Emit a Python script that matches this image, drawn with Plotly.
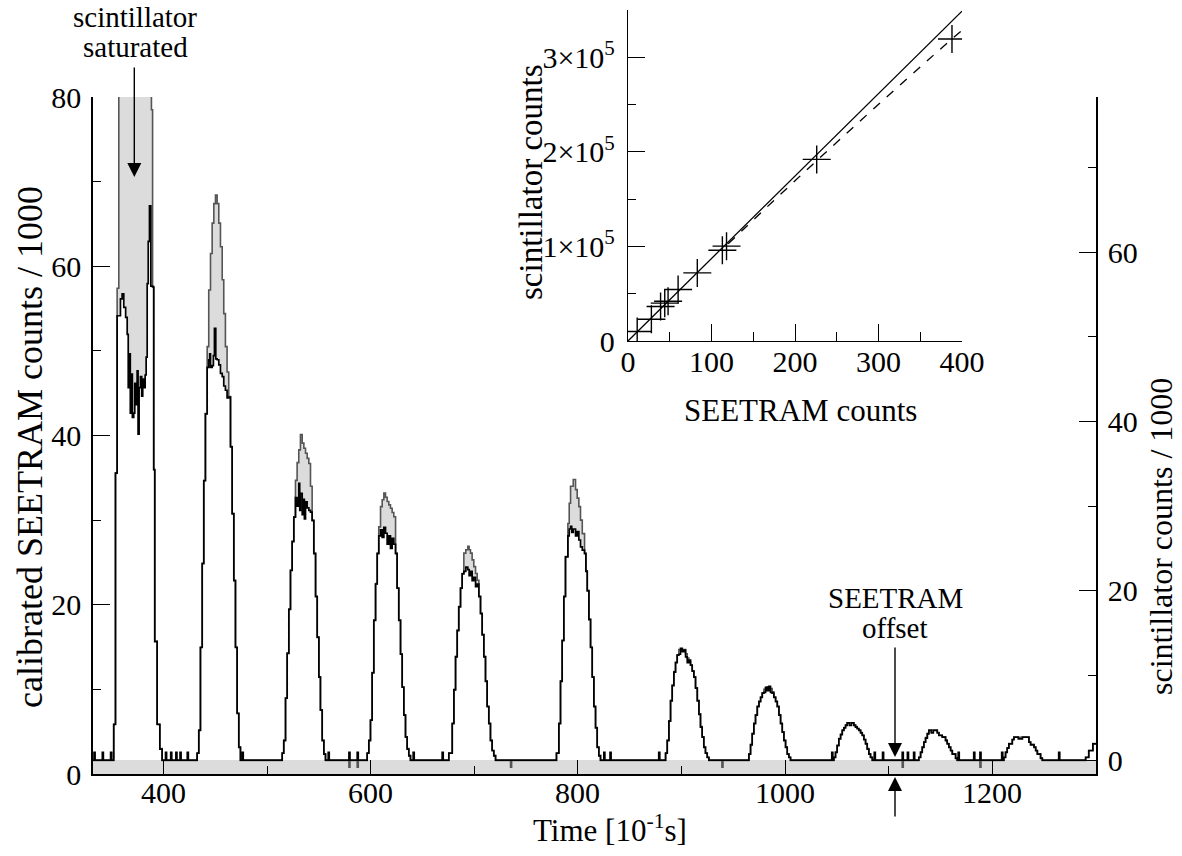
import plotly.graph_objects as go

# ---------------- main panel data ----------------
# calibrated SEETRAM counts / 1000 (left axis), step breakpoints (time in 0.1 s)
seetram_t = [330,
             352, 353.7, 355.3, 356.9, 388.4, 389.5, 390.6, 391.6, 393.9, 396.5, 398.7,
             432.5, 434.1, 435.7, 437.4, 438.9, 440.5, 442.2, 443.7, 445.4, 447, 448.6, 450.2, 451.8,
             453.4, 455, 456.7, 458.2, 459.8, 461.4, 463, 464.7, 466.3, 467.9, 469.5, 471.1, 472.7, 474.3,
             514.6, 516.1, 517.8, 519.4, 521, 522.6, 524.2, 525.8, 527.4, 529, 530.6, 532.2, 533.9,
             535.5, 537.1, 538.7, 540.3, 541.9, 543.5, 545.1, 546.8, 548.4, 550, 551.5, 553.2, 554.8, 556.4,
             596.6, 598.2, 599.8, 601.4, 603, 604.7, 606.3, 607.8, 609.5, 611.1, 612.7, 614.3, 615.9,
             617.5, 619.1, 620.7, 622.3, 624, 625.5, 627.1, 628.8, 630.4, 632, 633.6, 635.2, 636.8, 638.4,
             675.4, 678.7, 680.3, 681.9, 683.5, 685, 686.7, 688.3, 689.9, 691.8, 693.7, 695, 696.3,
             697.9, 699.5, 701.2, 702.8, 704.4, 706, 707.6, 709.2, 710.8, 712.4, 714, 715.6, 717.2, 718.8, 720.5,
             779.3, 781.6, 783.2, 784.8, 786.4, 788, 790.3, 791.6, 792.9, 795.5, 797.7, 799.3, 800.9,
             802.5, 804.2, 806.4, 807.7, 809, 810.6, 812.2, 813.8, 815.4, 817, 818.6, 820.2, 821.8,
             884.6, 886.2, 887.8, 889.4, 891, 892.6, 894.2, 895.8, 897.4, 903.9, 905.5, 907.1, 908.7,
             910.3, 911.9, 913.5, 915.2, 916.8, 918.3, 919.9, 921.5, 923.1, 924.8, 926.4,
             965, 966.6, 968.2, 969.8, 971.4, 973.1, 974.7, 976.3, 977.9, 979.5, 981.1, 982.7, 984.3,
             985.9, 987.5, 989.1, 990.8, 992.4, 994, 995.6, 997.2, 998.8, 1000.4, 1002, 1003.6, 1005.2,
             1047, 1048.6, 1050.2, 1051.8, 1053.5, 1055.1, 1056.7, 1058.3, 1059.9, 1066.3, 1067.9,
             1069.5, 1071.1, 1072.8, 1074.4, 1076, 1077.6, 1079.2, 1080.8, 1082.4, 1084.1,
             1129, 1130.7, 1132.3, 1133.9, 1135.5, 1137.2, 1138.7, 1146.8, 1148.4, 1151.6, 1154.8,
             1156.4, 1158, 1159.7, 1161.3, 1164.5, 1166.1,
             1211.1, 1212.7, 1214.3, 1215.9, 1219.2, 1220.8, 1235.3, 1236.9, 1240.2, 1241.8, 1243.4,
             1246.5, 1248.2,
             1290, 1293, 1297, 1302]
seetram_v = [1.6,
             5.9, 35.6, 57.4, 100, 78.5, 57.6, 36, 15.7, 5.9, 3.0, 1.6,
             2.5, 5.2, 15, 24.9, 34.7, 42.6, 50.5, 57.2, 61.5, 65.1, 67.4, 68.4, 67.4,
             65.1, 62.3, 58.4, 54.4, 50.5, 47.5, 44.6, 38.7, 30.8, 22.9, 15, 7.2, 3.2, 1.6,
             2.5, 4.0, 9, 14.3, 19.5, 24.1, 27.5, 30.4, 34.7, 36.8, 38.3, 40.1, 39.1,
             38.5, 37.9, 37.3, 36.7, 34, 30, 26.1, 21, 16.2, 11.5, 7.6, 4.0, 2.4, 1.6,
             2.5, 4, 6.4, 12, 18.2, 22.5, 26.1, 29.2, 31.6, 32.4, 33.2, 32.7, 32.2,
             31.8, 31.4, 30.9, 30.4, 26.1, 22, 18.2, 14.2, 10.3, 7, 4.4, 3, 2.2, 1.6,
             2.5, 6.0, 10, 13.9, 17, 19.8, 22, 23.7, 26.1, 26.5, 26.9, 26.5, 26.1,
             25.3, 24.5, 23.7, 22.9, 21, 19, 16.5, 13.9, 11, 8, 6, 4, 2.8, 2.2, 1.6,
             2.5, 6.0, 11, 15.8, 21, 25.7, 29.6, 32, 34, 34.8, 33.6, 32.6, 31.6,
             30, 28.4, 26.1, 24, 21.7, 18.3, 15, 11.5, 8, 5.5, 3.2, 2.2, 1.6,
             2.5, 4.0, 6.3, 8.7, 10.5, 12.1, 13.2, 14.1, 14.7, 14.2, 13.7, 13.3, 12.9,
             12.2, 11.5, 10.2, 8.7, 7.1, 5.6, 4.4, 3.2, 2.5, 2.0, 1.6,
             2.4, 3.5, 4.8, 6.0, 7.0, 8.0, 8.6, 9.1, 9.6, 10.0, 10.2, 10.3, 10.0,
             10.1, 9.7, 9.1, 8.6, 8.0, 7.0, 6.0, 5.0, 4.0, 3.2, 2.4, 2.0, 1.6,
             2.0, 2.6, 3.4, 4.2, 4.7, 5.2, 5.5, 5.8, 6.05, 5.8, 5.6,
             5.4, 5.2, 4.9, 4.6, 4.1, 3.6, 3.0, 2.4, 2.0, 1.6,
             2.0, 2.6, 3.2, 3.8, 4.3, 4.8, 5.2, 4.9, 4.6, 4.4, 4.0,
             3.6, 3.2, 2.8, 2.4, 1.9, 1.6,
             2.0, 2.6, 3.1, 3.6, 4.1, 4.35, 3.8, 3.5, 3.2, 2.8, 2.4,
             1.9, 1.6,
             2.0, 2.8, 3.6, 3.6]
seetram_base = 1.6
seetram_dip_t = [579, 587, 735, 939, 1113, 1188]
seetram_dip_v = 0.8

# scintillator counts / 1000 (right axis), step breakpoints
scint_t = [330,
           352, 353.7, 355.3, 358.5, 360.1, 361.7, 363.5, 365, 366, 367, 368, 369, 370, 371.3, 372.3,
           373.3, 374.6, 375.5, 376.5, 377.8, 379, 380, 381, 382.3, 383.3, 384.3, 385.3, 386.5, 387.8,
           389.5, 390.6, 391.6, 393.9, 396.5, 398.7,
           432.5, 434.1, 435.7, 437.4, 438.9, 440.5, 442.2, 443.7, 444.6, 445.4, 447, 448.2, 449.2,
           450.5, 451.8, 453.4, 455, 456.7, 458.2, 459.8, 461.4, 463, 464.7, 466.3, 467.9, 469.5,
           471.1, 472.7, 474.3,
           514.6, 516.1, 517.8, 519.4, 521, 522.6, 524.2, 525.8, 527.4, 529, 530.6, 531.5, 532.2,
           533.9, 535, 536, 537.1, 538.7, 540.3, 541.9, 543.5, 545.1, 546.8, 548.4, 550, 551.5,
           553.2, 554.8, 556.4,
           596.6, 598.2, 599.8, 601.4, 603, 604.7, 606.3, 607.8, 609.5, 611.1, 612.7, 614.3, 615.9,
           617.5, 619.1, 620.7, 622.3, 624, 625.5, 627.1, 628.8, 630.4, 632, 633.6, 635.2, 636.8, 638.4,
           675.4, 678.7, 680.3, 681.9, 683.5, 685, 686.7, 688.3, 689.9, 691.8, 693.7, 695, 696.3,
           697.9, 699.5, 701.2, 702.8, 704.4, 706, 707.6, 709.2, 710.8, 712.4, 714, 715.6, 717.2,
           718.8, 720.5,
           779.3, 781.6, 783.2, 784.8, 786.4, 788, 790.3, 791.6, 792.9, 794, 795.5, 797.7, 799.3,
           800.9, 802.5, 804.2, 806.4, 807.7, 809, 810.6, 812.2, 813.8, 815.4, 817, 818.6, 820.2, 821.8,
           884.6, 886.2, 887.8, 889.4, 891, 892.6, 894.2, 895.8, 897.4, 899, 900.7, 902.3, 903.9,
           905.5, 907.1, 908.7, 910.3, 911.9, 913.5, 915.2, 916.8, 918.3, 919.9, 921.5, 923.1, 924.8, 926.4,
           965, 966.6, 968.2, 969.8, 971.4, 973.1, 974.7, 976.3, 977.9, 979.5, 981.1, 982.7, 984.3,
           985.9, 987.5, 989.1, 990.8, 992.4, 994, 995.6, 997.2, 998.8, 1000.4, 1002, 1003.6, 1005.2,
           1047, 1048.6, 1050.2, 1051.8, 1053.5, 1055.1, 1056.7, 1058.3, 1059.9, 1062, 1064, 1066.3,
           1067.9, 1069.5, 1071.1, 1072.8, 1074.4, 1076, 1077.6, 1079.2, 1080.8, 1082.4, 1084.1,
           1129, 1130.7, 1132.3, 1133.9, 1135.5, 1137.2, 1138.7, 1141, 1143, 1146.8, 1148.4, 1151.6,
           1154.8, 1156.4, 1158, 1159.7, 1161.3, 1164.5, 1166.1,
           1211.1, 1212.7, 1214.3, 1215.9, 1219.2, 1220.8, 1225, 1229, 1235.3, 1236.9, 1240.2,
           1241.8, 1243.4, 1246.5, 1248.2,
           1290, 1293, 1297, 1302]
scint_v = [0,
           4.2, 33.9, 52.5, 54.5, 55.1, 53.5, 52.3, 50.3, 44, 48, 41, 45.6, 40.5, 41, 44.5,
           42, 46, 38.5, 44, 45.3, 43, 45, 44, 45.5, 47.6, 56.3, 61.3, 65.5, 56,
           55.9, 34.3, 14, 4.2, 1.3, 0,
           0.8, 3.5, 13.3, 23.2, 33, 40.9, 46.4, 47.3, 48, 46.4, 46.6, 47.8, 51,
           47.4, 47.3, 46.7, 45.7, 45.3, 44.2, 43.7, 42.8, 42.9, 37, 29.1, 21.2, 13.3,
           5.5, 1.5, 0,
           0.8, 2.3, 7.3, 12.6, 17.8, 22.4, 25.8, 28.7, 31, 30, 32.7, 29.5, 31.5,
           29, 30.8, 28.5, 30.5, 29.8, 29.5, 29.3, 28.3, 24.4, 19.3, 14.5, 9.8, 5.9,
           2.3, 0.7, 0,
           0.8, 2.3, 4.7, 10.3, 16.5, 20.8, 24.4, 26.5, 27.2, 26.3, 27.5, 26.8, 25.5,
           26.5, 25, 26.2, 25.5, 24.4, 20.3, 16.5, 12.5, 8.6, 5.3, 2.7, 1.3, 0.5, 0,
           0.8, 4.3, 8.3, 12.2, 15.3, 18.1, 20.3, 22.0, 22.3, 22.8, 22.5, 21.8, 22.3,
           21.2, 21.6, 20.5, 20.8, 19.3, 17.3, 14.8, 12.2, 9.3, 6.3, 4.3, 2.3, 1.1,
           0.5, 0,
           0.8, 4.3, 9.3, 14.1, 19.3, 24, 26.5, 27.3, 27.6, 26.9, 27.3, 26.5, 27,
           26, 25.2, 24.8, 24.4, 22.3, 20, 16.6, 13.3, 9.8, 6.3, 3.8, 1.5, 0.5, 0,
           0.8, 2.3, 4.6, 7.0, 8.8, 10.4, 11.5, 12.4, 12.5, 13.2, 12.8, 13.0, 12.2,
           11.5, 11.8, 11.2, 10.5, 9.8, 8.5, 7.0, 5.4, 3.9, 2.7, 1.5, 0.8, 0.3, 0,
           0.7, 1.8, 3.1, 4.3, 5.3, 6.3, 6.9, 7.4, 7.9, 8.0, 8.6, 8.2, 8.7,
           8.0, 7.9, 7.4, 6.9, 6.3, 5.3, 4.3, 3.3, 2.3, 1.5, 0.7, 0.3, 0,
           0.3, 0.9, 1.7, 2.5, 3.0, 3.5, 3.8, 4.1, 4.4, 4.1, 4.4, 4.1,
           3.9, 3.7, 3.5, 3.2, 2.9, 2.4, 1.9, 1.3, 0.7, 0.3, 0,
           0.3, 0.9, 1.5, 2.1, 2.6, 3.1, 3.5, 3.2, 3.5, 3.2, 2.9, 2.7,
           2.3, 1.9, 1.5, 1.1, 0.7, 0.2, 0,
           0.3, 0.9, 1.4, 1.9, 2.4, 2.7, 2.5, 2.7, 2.1, 1.8, 1.5,
           1.1, 0.7, 0.2, 0,
           0.3, 1.1, 1.9, 1.9]
scint_base = 0.0
scint_spike_t = [333, 341, 349, 402, 407, 412, 416, 423, 476, 559, 579, 587, 641, 669,
                 825, 831, 878, 1045, 1086, 1094, 1113, 1118, 1124, 1167, 1182, 1188, 1209, 1264]
scint_spike_v = 0.9

# ---------------- inset data ----------------
inset_seetram = [11, 28, 39, 44, 48, 60, 83, 113, 118, 226, 388]
inset_scint = [10000, 23000, 36500, 40000, 42000, 54500, 72000, 96000, 100300, 192000, 319400]
lin_fit_x = [0, 400]
lin_fit_y = [0, 348800]
quad_fit_x = [120, 160, 200, 240, 280, 320, 360, 400]
quad_fit_y = [102800, 136300, 169400, 202000, 234200, 266100, 297700, 328600]

# axis settings
x_range = [332, 1300]
main_x_ticks = [400, 600, 800, 1000, 1200]
left_range = [0, 80]
right_range = [-1.65, 78.35]
inset_x_ticks = [0, 100, 200, 300, 400]
inset_y_ticks = [0, 100000, 200000, 300000]
inset_y_ticktext = ["0", "1×10<sup>5</sup>", "2×10<sup>5</sup>", "3×10<sup>5</sup>"]
inset_y_minor = [50000, 150000, 250000]


def add_spikes(t, v, spikes, spike_v, base):
    pts = list(zip(t, v))
    for s in spikes:
        pts.append((s, spike_v))
        pts.append((s + 1, base))
    pts.sort(key=lambda p: p[0])
    return [p[0] for p in pts], [p[1] for p in pts]


s_t, s_v = add_spikes(seetram_t, seetram_v, seetram_dip_t, seetram_dip_v, seetram_base)
c_t, c_v = add_spikes(scint_t, scint_v, scint_spike_t, scint_spike_v, scint_base)

FONT = "Liberation Serif, Times New Roman, serif"
fig = go.Figure()

# gray SEETRAM area (left axis)
fig.add_trace(go.Scatter(x=s_t, y=s_v, mode="lines", line=dict(shape="hv", width=0),
                         fill="tozeroy", fillcolor="rgb(220,220,220)", xaxis="x", yaxis="y",
                         showlegend=False, hoverinfo="skip"))
# white area under scintillator curve (right axis)
fig.add_trace(go.Scatter(x=c_t, y=c_v, mode="lines", line=dict(shape="hv", width=0),
                         fill="tozeroy", fillcolor="white", xaxis="x", yaxis="y2",
                         showlegend=False, hoverinfo="skip"))
# SEETRAM outline (overlay of left axis)
fig.add_trace(go.Scatter(x=s_t, y=s_v, mode="lines", line=dict(shape="hv", color="rgb(85,85,85)", width=1.6),
                         xaxis="x", yaxis="y4", showlegend=False, hoverinfo="skip"))
# scintillator line (overlay of right axis)
fig.add_trace(go.Scatter(x=c_t, y=c_v, mode="lines", line=dict(shape="hv", color="black", width=1.7),
                         xaxis="x", yaxis="y5", showlegend=False, hoverinfo="skip"))

# inset
fig.add_trace(go.Scatter(x=lin_fit_x, y=lin_fit_y, mode="lines", line=dict(color="black", width=1.3),
                         xaxis="x3", yaxis="y3", showlegend=False))
fig.add_trace(go.Scatter(x=quad_fit_x, y=quad_fit_y, mode="lines",
                         line=dict(color="black", width=1.3, dash="dash", shape="spline"),
                         xaxis="x3", yaxis="y3", showlegend=False))
fig.add_trace(go.Scatter(x=inset_seetram, y=inset_scint, mode="markers",
                         marker=dict(symbol="cross-thin", size=20, line=dict(color="black", width=1.4)),
                         xaxis="x3", yaxis="y3", showlegend=False))

tickfont = dict(family=FONT, size=30, color="black")
MAIN_H = (774 - 97) / 764

fig.update_layout(
    width=1182, height=856,
    margin=dict(l=93, r=86, t=10, b=82, autoexpand=False),
    paper_bgcolor="white", plot_bgcolor="rgba(0,0,0,0)",
    font=dict(family=FONT, size=30, color="black"),
    xaxis=dict(range=x_range, domain=[0, 1], anchor="y", showgrid=False, zeroline=False,
               showline=True, linecolor="black", linewidth=1.5, automargin=False,
               ticks="inside", ticklen=14, tickwidth=1.3, tickcolor="black",
               tickvals=main_x_ticks, showticklabels=False,
               minor=dict(ticks="inside", ticklen=8, tickwidth=1.3, tickcolor="black", dtick=100, tick0=0)),
    yaxis=dict(range=left_range, domain=[0, MAIN_H], anchor="x", showgrid=False, zeroline=False,
               showline=True, linecolor="black", linewidth=1.5, automargin=False,
               ticks="inside", ticklen=17, tickwidth=1.3, tickcolor="black",
               tick0=0, dtick=20, tickfont=tickfont, ticklabelstandoff=4,
               minor=dict(ticks="inside", ticklen=8, tickwidth=1.3, tickcolor="black", dtick=10, tick0=0)),
    yaxis2=dict(range=right_range, overlaying="y", side="right", anchor="x", showgrid=False, zeroline=False,
                showline=True, linecolor="black", linewidth=1.5, automargin=False,
                ticks="inside", ticklen=17, tickwidth=1.3, tickcolor="black",
                tick0=0, dtick=20, tickfont=tickfont, ticklabelstandoff=4,
                minor=dict(ticks="inside", ticklen=8, tickwidth=1.3, tickcolor="black", dtick=10, tick0=0)),
    yaxis4=dict(range=left_range, overlaying="y", anchor="x", visible=False, showgrid=False, zeroline=False),
    yaxis5=dict(range=right_range, overlaying="y", anchor="x", visible=False, showgrid=False, zeroline=False),
    xaxis3=dict(range=[0, 400], domain=[(628 - 93) / 1003, (962 - 93) / 1003], anchor="y3",
                showgrid=False, zeroline=False, showline=True, linecolor="black", linewidth=1.3,
                automargin=False, ticks="inside", ticklen=17, tickwidth=1.3, tickcolor="black",
                tickvals=inset_x_ticks, tickfont=tickfont, ticklabelstandoff=-6,
                minor=dict(ticks="inside", ticklen=9, tickwidth=1.3, tickcolor="black", dtick=50, tick0=0)),
    yaxis3=dict(range=[0, 350000], domain=[(774 - 341) / 764, 1.0], anchor="x3",
                showgrid=False, zeroline=False, showline=True, linecolor="black", linewidth=1.3,
                automargin=False, ticks="inside", ticklen=17, tickwidth=1.3, tickcolor="black",
                tickvals=inset_y_ticks, ticktext=inset_y_ticktext, tickfont=tickfont, ticklabelstandoff=6,
                minor=dict(ticks="inside", ticklen=8, tickwidth=1.3, tickcolor="black", tickvals=inset_y_minor)),
)


def px2paper(px, py):
    return (px - 93) / 1003, (774 - py) / 764


annots = []

# main time-axis tick labels (placed just below the axis line)
for tv in main_x_ticks:
    annots.append(dict(text=str(tv), x=tv, xref="x", y=px2paper(0, 792)[1], yref="paper",
                       showarrow=False, xanchor="center", yanchor="middle", borderpad=0,
                       font=dict(family=FONT, size=30, color="black")))


def text_ann(txt, px, py, angle=0, size=30):
    x, y = px2paper(px, py)
    annots.append(dict(text=txt, x=x, y=y, xref="paper", yref="paper", showarrow=False,
                       xanchor="center", yanchor="middle", textangle=angle, borderpad=0,
                       font=dict(family=FONT, size=size, color="black")))


text_ann("scintillator", 135, 17, size=29)
text_ann("saturated", 135, 47, size=29)
text_ann("SEETRAM", 895, 598, size=29)
text_ann("offset", 895, 628, size=29)
text_ann("Time [10<sup>-1</sup>s]", 610, 829, size=31)
text_ann("calibrated SEETRAM counts / 1000", 30, 447, angle=-90, size=36)
text_ann("scintillator counts / 1000", 1161, 537, angle=-90, size=32)
text_ann("scintillator counts", 531, 182, angle=-90, size=33)
text_ann("SEETRAM counts", 800, 410, size=31)

# arrows
for (px, tip_py, tail_py) in [(134.3, 177, 66), (895, 757, 646), (895, 777, 818)]:
    x, y = px2paper(px, tip_py)
    annots.append(dict(x=x, y=y, xref="paper", yref="paper", ax=0, ay=tail_py - tip_py,
                       axref="pixel", ayref="pixel", showarrow=True, arrowhead=2, arrowsize=2.0,
                       arrowwidth=1.4, arrowcolor="black", text=""))

fig.update_layout(annotations=annots)
fig.write_html("out.html")
